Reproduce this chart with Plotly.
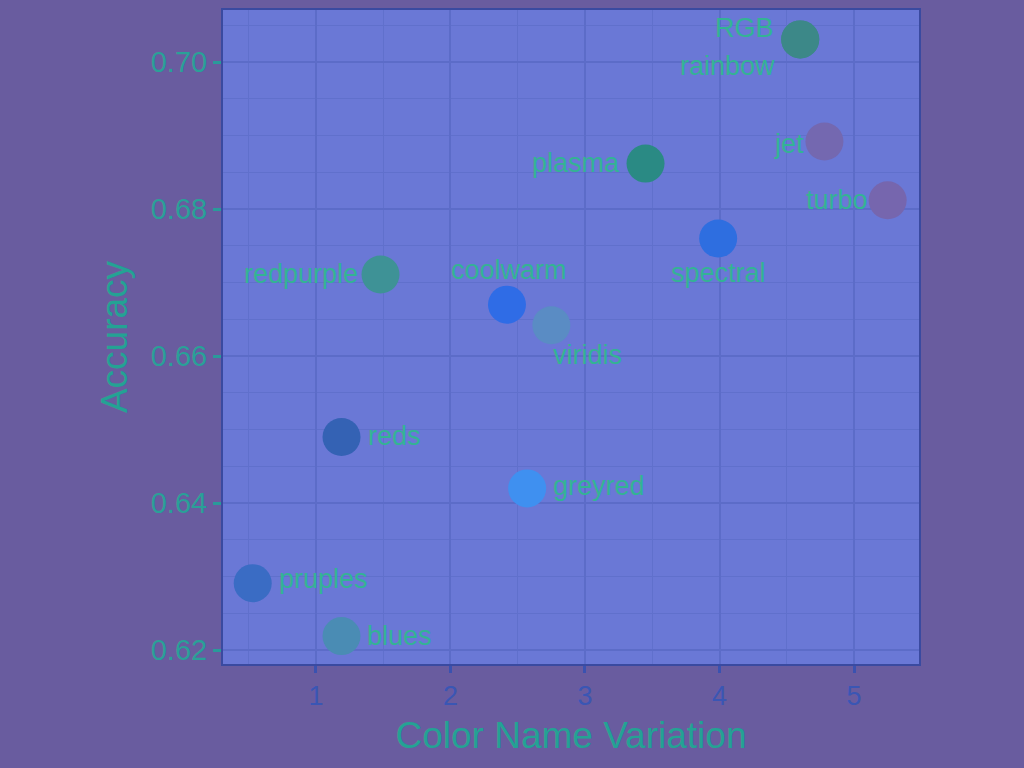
import plotly.graph_objects as go

names = ["RGB", "rainbow", "jet", "turbo", "plasma", "spectral", "redpurple",
         "coolwarm", "viridis", "reds", "greyred", "pruples", "blues"]
variation = [4.60, 4.60, 4.78, 5.25, 3.45, 3.99, 1.48, 2.42, 2.75, 1.19, 2.57, 0.53, 1.19]
accuracy = [0.7031, 0.7031, 0.6892, 0.6812, 0.6862, 0.6760, 0.6711, 0.6670, 0.6642,
            0.6490, 0.6420, 0.6291, 0.6219]
x_ticks = [1, 2, 3, 4, 5]
y_ticks = [0.62, 0.64, 0.66, 0.68, 0.70]

# label placement styles: (xanchor, xshift, yshift) in pixels
label_style = [("right", -25, 11), ("right", -24, -27), ("right", -19, -2),
               ("right", -19, 0), ("right", -25, 1), ("center", 0, -34),
               ("right", -22, 1), ("center", 2, 35), ("left", 1, -30),
               ("left", 25, 1), ("left", 25, 2), ("left", 25, 4), ("left", 24, 0)]
dot_colors = ["#3c8888", "#3c8888", "#7468b0", "#7666ae", "#2a8a84", "#2e6ee0",
              "#3e9296", "#2f6ce6", "#5a8cc4", "#3462b4", "#3f90f0", "#3a6cc4", "#4a8cb4"]

text_col = "#33b394"
font_fam = "Liberation Sans, Arial"
fig = go.Figure()
fig.add_trace(go.Scatter(
    x=variation, y=accuracy, mode="markers",
    marker=dict(size=38, color=dot_colors, line=dict(width=0)),
    cliponaxis=False, showlegend=False,
))
for name, xv, yv, (xa, xs, ys) in zip(names, variation, accuracy, label_style):
    fig.add_annotation(
        x=xv, y=yv, text=name, showarrow=False, xanchor=xa, yanchor="middle",
        xshift=xs, yshift=ys, borderpad=0,
        font=dict(family=font_fam, size=27, color=text_col),
    )

fig.update_layout(
    width=1024, height=768,
    margin=dict(l=223, r=105, t=8, b=104),
    paper_bgcolor="#695c9f",
    plot_bgcolor="#6a78d6",
    font=dict(family=font_fam, color="#2a9aa0"),
)
fig.update_xaxes(
    range=[0.309, 5.483], tickvals=x_ticks, ticktext=[str(v) for v in x_ticks],
    showgrid=True, gridcolor="#5c6cc8", gridwidth=2,
    minor=dict(dtick=0.5, showgrid=True, gridcolor="#6070cc", gridwidth=1),
    showline=True, linecolor="#3a4aa0", linewidth=2, mirror=True,
    ticks="outside", ticklen=7, tickwidth=3, tickcolor="#3a52b0",
    tickfont=dict(size=27, color="#3a56b4"),
    title=dict(text="Color Name Variation", font=dict(size=37, color="#24a294"), standoff=12),
    zeroline=False,
)
fig.update_yaxes(
    range=[0.6181, 0.7071], tickvals=y_ticks, ticktext=["%.2f" % v for v in y_ticks],
    showgrid=True, gridcolor="#5c6cc8", gridwidth=2,
    minor=dict(dtick=0.005, tick0=0.62, showgrid=True, gridcolor="#6070cc", gridwidth=1),
    showline=True, linecolor="#3a4aa0", linewidth=2, mirror=True,
    ticks="outside", ticklen=8, tickwidth=3, tickcolor="#2a9a9a",
    tickfont=dict(size=29, color="#2aa098"),
    title=dict(text="Accuracy", font=dict(size=37, color="#24a294"), standoff=12),
    zeroline=False,
)

fig.write_html("out.html")
